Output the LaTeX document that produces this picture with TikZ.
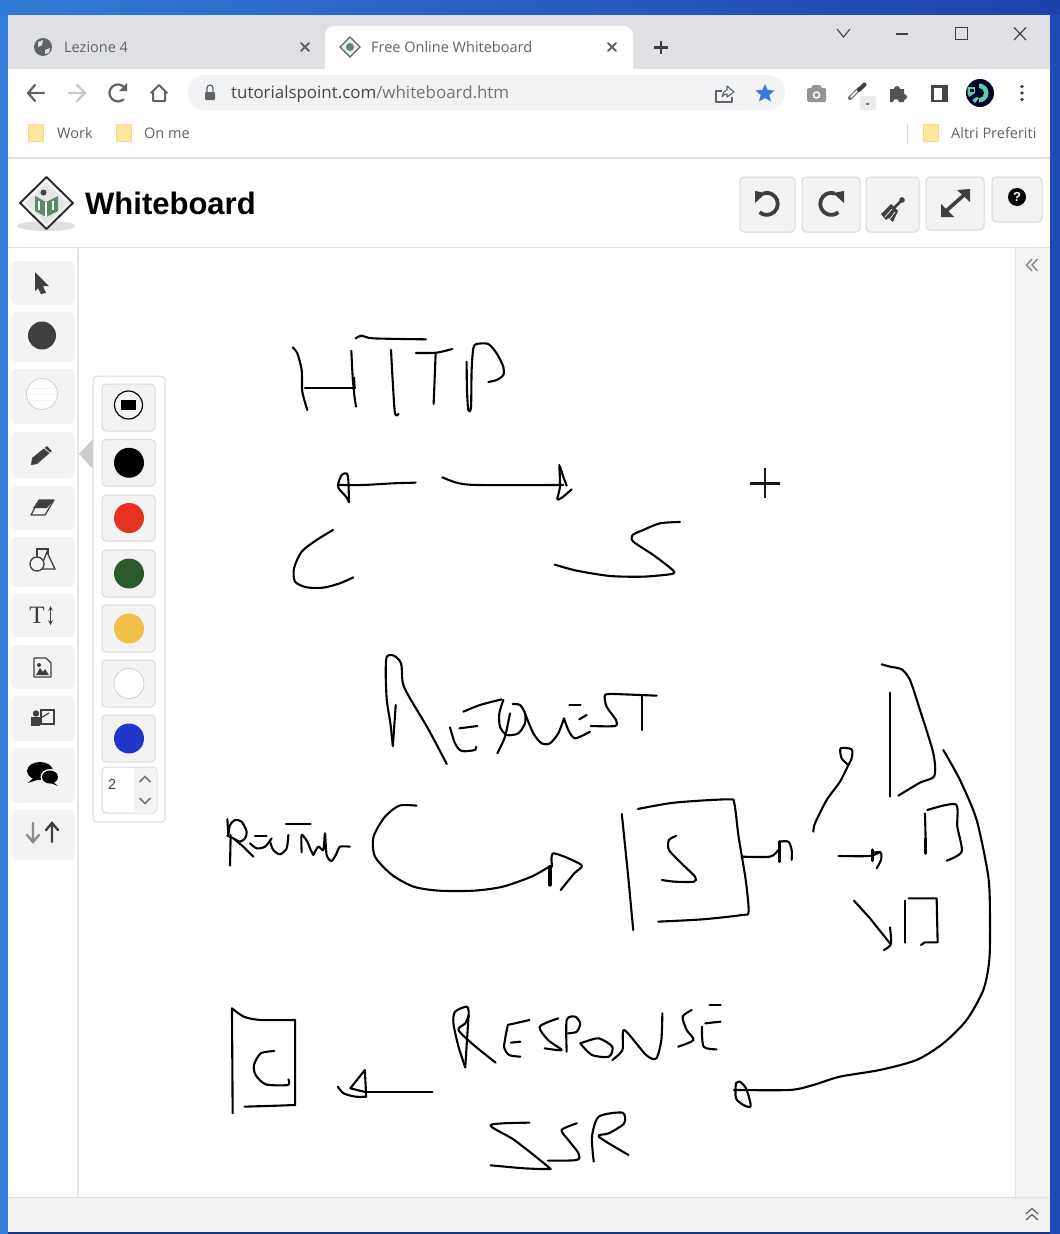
\documentclass[tikz,border=0pt]{standalone}
\usepackage{fontspec}
\setmainfont{Open Sans}
\newfontfamily\arialfont{Liberation Sans}
\newfontfamily\timesfont{Liberation Serif}
\definecolor{tabgrey}{HTML}{DFE0E4}
\definecolor{pillgrey}{HTML}{F1F3F4}
\definecolor{iconc}{HTML}{5F6368}
\definecolor{btnfill}{HTML}{F3F3F4}
\definecolor{btnline}{HTML}{D9D9DB}
\definecolor{dark}{HTML}{3F3F41}
\definecolor{folder}{HTML}{FBE79F}
\definecolor{deskA}{RGB}{50,122,215}
\definecolor{deskB}{RGB}{28,66,172}
\definecolor{deskL}{RGB}{50,128,220}
\definecolor{deskR}{RGB}{30,76,180}
\definecolor{starblue}{RGB}{60,120,225}
\definecolor{mint}{RGB}{90,205,175}
\definecolor{palred}{RGB}{230,50,35}
\definecolor{palgreen}{RGB}{43,90,46}
\definecolor{palyellow}{RGB}{240,192,74}
\definecolor{palblue}{RGB}{33,55,204}
\definecolor{logogreen}{RGB}{95,135,105}
\tikzset{
  x=1pt,y=-1pt,
  ink/.style={line width=2.1pt,line cap=round,line join=round,black},
  btn/.style={draw=btnline,fill=btnfill,line width=1pt,rounded corners=4pt},
  tool/.style={fill=btnfill,rounded corners=6pt},
  uitext/.style={inner sep=0pt,anchor=west,text=#1},
  uitext/.default={iconc},
  icon/.style={line width=2.2pt,draw=iconc,line cap=round,line join=round},
  hair/.style={line width=1pt,draw=#1},
  zoomA/.style={x=0.3333pt,y=-0.3333pt},
  zoomB/.style={x=0.35714pt,y=-0.3333pt},
  zoomC/.style={x=0.33807pt,y=-0.3333pt}
}
\newcommand{\sk}[1]{\draw[ink] plot[smooth,tension=0.45] coordinates {#1};}
\newcommand{\skl}[1]{\draw[ink] plot coordinates {#1};}
\newcommand{\fold}[1]{\begin{scope}[shift={(#1,124.5)}]
  \fill[folder,draw=folder!85!orange,line width=.6pt] (0,0) rectangle (15,17);
\end{scope}}
\begin{document}
\begin{tikzpicture}
\useasboundingbox (0,0) rectangle (1060,1234);
% desktop
\fill[left color=deskA,right color=deskB] (0,0) rectangle (1060,15);
\fill[deskL] (0,15) rectangle (8,1234);
\fill[deskR] (1050,15) rectangle (1060,1234);
\fill[deskB!80!black] (8,1232) rectangle (1050,1234);
% window
\fill[white] (8,15) rectangle (1050,1232);
\fill[tabgrey] (8,15) rectangle (1050,69);
\fill[white,rounded corners=9pt] (325,26) rectangle (633,80);
\fill[white] (325,60) rectangle (633,72);
\fill[pillgrey,rounded corners=17pt] (188,75) rectangle (785,110);
\draw[hair=black!12,line width=1.5pt] (8,158) -- (1050,158);
\draw[hair=black!12] (8,247) -- (1050,247);
% tabs
\fill[iconc] (43,47) circle (9);
\fill[tabgrey] (38,42) -- (43,40) -- (42,45) -- (38,47) -- cycle;
\fill[tabgrey] (45,50) -- (50,48) -- (49,53) -- (45,54) -- cycle;
\node[uitext] (tabone) at (64,47.5) {\fontsize{14.5}{16}\selectfont Lezione 4};
\draw[icon,line width=2pt] (301,43) -- (309,51) (309,43) -- (301,51);
\begin{scope}[shift={(350,47)}]
  \draw[iconc,line width=1.4pt,fill=black!8] (0,-10) -- (10,0) -- (0,10) -- (-10,0) -- cycle;
  \fill[logogreen] (0,0) circle (4);
\end{scope}
\node[uitext] (tabtwo) at (371,47.5) {\fontsize{14.5}{16}\selectfont Free Online Whiteboard};
\draw[icon,line width=2pt] (608,43) -- (616,51) (616,43) -- (608,51);
\draw[dark,line width=2.4pt] (654,47.5) -- (668,47.5) (661,41) -- (661,54);
% window controls
\draw[dark,line width=1.1pt] (837,29) -- (843.5,37) -- (850,29);
\draw[dark,line width=1.4pt] (896,34) -- (908,34);
\draw[dark,line width=1.5pt] (955.5,27.5) rectangle (967.5,39.5);
\draw[dark,line width=1.2pt] (1014,27.5) -- (1026,40) (1026,27.5) -- (1014,40);
% nav
\draw[icon] (44,93) -- (28,93) (35,85) -- (28,93) -- (35,101);
\draw[icon,draw=black!22] (69,93) -- (85,93) (77,85) -- (85,93) -- (77,101);
\draw[icon] (124.5,87.5) arc[start angle=-40,end angle=-310,radius=8.5];
\fill[iconc] (127,83) -- (127,91) -- (119,91) -- cycle;
\draw[icon,line width=2pt] (151,93) -- (159,85) -- (167,93) (153,92) -- (153,101) -- (165,101) -- (165,92);
\fill[iconc,rounded corners=1pt] (205,92) rectangle (215,100);
\draw[iconc,line width=1.3pt] (207,92) -- (207,88) arc[start angle=180,end angle=360,radius=3] -- (213,92);
\node[uitext={black!72}] (urltext) at (231,94.5) {\fontsize{16.9}{20}\selectfont tutorialspoint.com\textcolor{black!55}{/whiteboard.htm}};
% share
\draw[iconc,line width=1.1pt,line join=round] (722,91) -- (716,91) -- (716,102) -- (732,102) -- (732,97);
\draw[iconc,line width=1.1pt,line join=round] (722,97) .. controls (723,91) and (727,90) .. (727,90) -- (727,86) -- (734,92) -- (727,97) -- (727,94) .. controls (725,94) and (723,95) .. (722,97);
% star
\fill[starblue] (765,84) -- (767.7,90) -- (774.5,90.5) -- (769.3,95) -- (771,101.5) -- (765,98) -- (759,101.5) -- (760.7,95) -- (755.5,90.5) -- (762.3,90) -- cycle;
% camera
\fill[black!42,rounded corners=1.5pt] (807,88) rectangle (826,102);
\fill[black!42] (811,88) -- (813,85) -- (820,85) -- (822,88) -- cycle;
\fill[white] (816.5,95) circle (3.8);
\fill[black!42] (816.5,95) circle (2.2);
% dropper
\draw[black!55,line width=4.2pt,line cap=round] (850,98) -- (859,89);
\draw[white,line width=1.6pt,line cap=round] (851,97) -- (857.5,90.5);
\draw[black!75,line width=4pt,line cap=round] (859,90) -- (864.5,84.5);
\fill[black!8,rounded corners=1pt] (860,96) rectangle (876,110);
\fill[black!55] (866,103.3) rectangle (868.5,104.5);
% puzzle
\fill[dark!90] (890,89) -- (894,89) arc[start angle=180,end angle=360,radius=3] -- (904,89) -- (904,94) arc[start angle=-90,end angle=90,radius=3] -- (904,102) -- (899,102) arc[start angle=0,end angle=-180,radius=3] -- (890,102) -- cycle;
% panel
\fill[iconc!70!black] (931,85) rectangle (948,102);
\fill[white] (933.5,87.5) rectangle (942,99.5);
% avatar
\fill[black!85!blue] (980,93) circle (14);
\fill[mint] (969,86) arc[start angle=215,end angle=145,radius=-0] -- (969,86);
\fill[mint] (967.5,87) -- (975,87) -- (975,93) -- (969,97) -- (967.5,93) -- cycle;
\fill[black!85!blue] (970,89) rectangle (973.5,91.5);
\fill[mint] (976.5,97) -- (972,100) -- (975,103) -- (979,98) -- cycle;
\fill[mint] (979,83.5) arc[start angle=-90,end angle=90,radius=9.5] -- cycle;
\fill[black!85!blue] (979,88) arc[start angle=-90,end angle=90,radius=5] -- cycle;
% dots
\fill[dark] (1022,86.5) circle (1.8) (1022,93) circle (1.8) (1022,99.5) circle (1.8);
% bookmarks
\fold{28.5}\fold{116}\fold{923}
\node[uitext] (bmwork) at (57,133.5) {\fontsize{14.5}{16}\selectfont Work};
\node[uitext] (bmonme) at (144,133.5) {\fontsize{14.5}{16}\selectfont On me};
\node[uitext] (bmaltri) at (951,133.5) {\fontsize{14.5}{16}\selectfont Altri Preferiti};
\draw[hair=black!15] (907,124) -- (907,144);
% logo
\fill[black!12] (46,226) ellipse (29 and 5);
\draw[black!85,line width=1.8pt,fill=black!10,line join=round] (46.5,177) -- (73,203) -- (46.5,229) -- (20,203) -- cycle;
\draw[white,line width=1.2pt] (46.5,181) -- (69,203) -- (46.5,225) -- (24,203) -- cycle;
\fill[logogreen] (35,196) -- (46,202) -- (58,196) -- (58,211) -- (46,217) -- (35,211) -- cycle;
\draw[white,line width=1.2pt] (46,202) -- (46,217) (39,201) -- (39,210) (53,201) -- (53,210);
\fill[black!75] (43.5,192.5) circle (3);
\node[uitext=black,font=\arialfont\bfseries\fontsize{31}{34}\selectfont] (title) at (85,203) {Whiteboard};
% header buttons
\draw[btn] (740,177) rectangle (795,232);
\draw[btn] (802,177) rectangle (860,232);
\draw[btn] (866,177) rectangle (919,232);
\draw[btn] (926,177) rectangle (984,230);
\draw[btn] (992,177) rectangle (1042,222);
\draw[dark,line width=3.8pt] (763,193.5) arc[start angle=250,end angle=490,radius=11];
\fill[dark] (755,191) -- (766,193) -- (755,203) -- cycle;
\draw[dark,line width=3.8pt] (835,193.5) arc[start angle=290,end angle=50,radius=11];
\fill[dark] (844,191) -- (833,193) -- (844,203) -- cycle;
\fill[dark] (881,214) -- (891,204) -- (898,211) -- (893,222) -- (888,218) -- (886,220) -- cycle;
\draw[dark,line width=2.6pt] (893,209) -- (901,201);
\fill[dark] (902,200) circle (2.8);
\draw[white,line width=.7pt] (885,217) -- (892,209) (889,220) -- (895,212);
\draw[dark,line width=3.6pt] (946,211) -- (964,195);
\fill[dark] (970,189) -- (970,202) -- (957,190) -- cycle;
\fill[dark] (941,217) -- (941,204) -- (954,217) -- cycle;
\fill[black] (1017,197) circle (9);
\node[inner sep=0pt,text=white,font=\arialfont\bfseries\fontsize{13}{13}\selectfont] (helpq) at (1017,197) {?};
% sidebars
\draw[hair=black!10,line width=1.2pt] (78,247) -- (78,1197);
\fill[black!4] (1015,248) rectangle (1050,1197);
\draw[hair=black!10] (1015,247) -- (1015,1197);
\fill[black!5] (8,1197) rectangle (1050,1232);
\draw[hair=black!12] (8,1197) -- (1050,1197);
\draw[black!50,line width=1.3pt] (1032,259) -- (1026.5,265) -- (1032,271) (1037.5,259) -- (1032,265) -- (1037.5,271);
\draw[black!60,line width=1.3pt] (1026,1214) -- (1032,1208.5) -- (1038,1214) (1026,1220) -- (1032,1214.5) -- (1038,1220);
% tool buttons
\fill[tool] (11,261) rectangle (75,305);
\fill[tool] (11,312) rectangle (75,362);
\fill[tool] (11,369) rectangle (75,424);
\fill[tool] (11,432) rectangle (75,478);
\fill[tool] (11,486) rectangle (75,530);
\fill[tool] (11,537) rectangle (75,587);
\fill[tool] (11,594) rectangle (75,637);
\fill[tool] (11,645) rectangle (75,689);
\fill[tool] (11,696) rectangle (75,741);
\fill[tool] (11,748) rectangle (75,803);
\fill[tool] (11,810) rectangle (75,860);
\fill[dark] (35,272) -- (49,286) -- (43,286) -- (46,293) -- (41,294) -- (38,288) -- (35,291) -- cycle;
\fill[dark] (42,335.5) circle (14);
\fill[white,draw=black!18,line width=.8pt] (42,394) circle (15.5);
\draw[red!6,line width=.7pt] (28,388) -- (56,388) (27,394) -- (57,394) (28,400) -- (56,400);
\fill[dark] (32,458) -- (47,446) -- (52,451) -- (37,464) -- (31,465) -- cycle;
\draw[white,line width=.7pt] (44,448) -- (50,453);
\fill[dark] (39,500) -- (54,500) -- (47,508) -- (33,508) -- cycle;
\draw[dark,line width=1.2pt,line join=round] (39,500) -- (54,500) -- (45,515) -- (31,515) -- cycle;
\fill[btnfill,draw=dark,line width=1.3pt] (37,549) rectangle (48,563);
\fill[btnfill,draw=dark,line width=1.3pt] (47,552) -- (55,569) -- (40,569) -- cycle;
\fill[btnfill,draw=dark,line width=1.3pt] (37,564) circle (7);
\node[inner sep=0pt,text=dark,font=\timesfont\fontsize{25}{25}\selectfont] (toolt) at (37,615) {T};
\draw[dark,line width=1.1pt,<->,>=stealth] (50.5,606) -- (50.5,625);
\draw[dark,line width=1.3pt,line join=round] (34,658) -- (46,658) -- (51,663) -- (51,677) -- (34,677) -- cycle;
\fill[dark] (36,675) -- (40,668) -- (43,672) -- (45,669) -- (49,675) -- cycle;
\fill[dark] (39,665) circle (2);
\fill[dark] (36,713.5) circle (3.2);
\fill[dark] (31,717) rectangle (40,726);
\draw[dark,line width=1.2pt] (41,710) rectangle (54,724);
\draw[dark,line width=1.2pt] (38,720) -- (44,716) -- (49,713);
\fill[black] (40,771) ellipse (13 and 9);
\fill[black] (33,778) -- (28,783) -- (40,779) -- cycle;
\fill[btnfill] (50,777) ellipse (9.5 and 8);
\fill[black] (50,777) ellipse (8 and 6.5);
\fill[black] (52,781) -- (58,786) -- (48,782) -- cycle;
\draw[black!45,line width=2.4pt,line cap=round] (33,823) -- (33,842) (27,835) -- (33,842) -- (39,835);
\draw[dark,line width=2.4pt,line cap=round] (52,842) -- (52,823) (46,830) -- (52,823) -- (58,830);
% palette
\fill[black!20] (79,454) -- (93,439) -- (93,469) -- cycle;
\draw[btn,fill=white] (93,376) rectangle (165,822);
\foreach \ya/\yb/\col in {439.5/486/black,495/541/palred,550/597/palgreen,605/652/palyellow,660/707/white,715/762/palblue}{
  \draw[btn] (102,\ya) rectangle (155,\yb);
  \fill[\col] (129,{(\ya+\yb)/2}) circle (15);
}
\draw[black!20,line width=.7pt] (129,683.5) circle (15);
\draw[btn] (102,384) rectangle (155,431);
\draw[black,line width=1.2pt] (128.5,405) circle (14);
\fill[black] (121,400) rectangle (136,410);
\draw[btn,fill=white] (102,767) rectangle (157,813);
\fill[btnfill,rounded corners=3pt] (134,768) rectangle (156.5,812.5);
\node[uitext={black!75},font=\arialfont\fontsize{14.5}{16}\selectfont] (numval) at (108,784) {2};
\draw[black!55,line width=1.5pt] (139.5,782) -- (145,776.5) -- (150.5,782);
\draw[black!55,line width=1.5pt] (139.5,798) -- (145,803.5) -- (150.5,798);
% cursor
\draw[black!90,line width=2.2pt] (750,483.5) -- (780,483.5) (765,468) -- (765,498);
% ---- HTTP block
\begin{scope}[shift={(210,320)},zoomA]
\sk{(248,82)(262,100)(275,150)(277,215)(292,270)}
\sk{(424,92)(428,170)(433,225)(438,260)}
\skl{(285,203)(435,203)}
\skl{(432,172)(434,205)}
\sk{(437,55)(455,47)(490,55)(648,58)}
\sk{(543,90)(548,180)(555,280)(566,282)}
\sk{(618,99)(680,98)(727,87)}
\skl{(677,100)(671,252)}
\sk{(770,125)(771,210)(775,270)(783,262)(785,150)(790,85)(800,72)(835,72)(860,100)(880,140)(880,165)(860,180)(835,186)}
\sk{(617,488)(550,490)(460,495)(385,495)}
\sk{(417,547)(408,530)(386,505)(385,490)(395,465)(410,460)(415,480)(417,547)}
\sk{(697,472)(740,488)(800,495)(1060,495)}
\sk{(1048,435)(1050,500)(1042,538)(1060,530)(1085,508)}
\sk{(1050,440)(1060,470)(1070,497)}
\sk{(369,630)(320,660)(275,695)(252,745)(255,785)(290,802)(340,803)(390,790)(430,772)}
\sk{(1034,734)(1100,752)(1200,768)(1300,770)(1385,762)(1388,750)(1330,705)(1270,665)(1268,645)(1300,630)(1350,610)(1410,606)}
\end{scope}
% ---- Request: big R, arrow, server box
\begin{scope}[shift={(210,640)},zoomB]
\sk{(512,318)(505,250)(495,180)(492,100)(495,50)(515,47)(535,70)(540,130)(560,175)(610,265)(663,372)}
\skl{(520,195)(512,318)}
% curved arrow
\sk{(578,497)(530,497)(490,530)(458,590)(462,650)(510,705)(570,740)(640,752)(740,752)(820,740)(900,710)(950,680)}
\draw[ink,line width=3.4pt] (952,680) -- (952,735);
\sk{(958,680)(962,640)(1040,675)(1020,700)(982,750)}
% server box
\sk{(1153,522)(1170,700)(1185,870)}
\sk{(1198,507)(1300,488)(1450,478)(1468,490)(1480,590)(1500,720)(1508,815)(1490,825)(1380,838)(1255,845)}
\sk{(1305,588)(1285,600)(1285,630)(1320,670)(1358,710)(1355,725)(1300,725)(1265,720)}
\end{scope}
% ---- Request: remaining letters
\begin{scope}[shift={(440,690)},zoomA]
\sk{(70,65)(120,45)(185,28)}
\sk{(30,112)(45,160)(65,183)(105,180)(108,170)}
\skl{(58,115)(112,108)}
\sk{(190,30)(178,70)(180,110)(200,135)(235,130)(255,100)(255,70)(240,45)(218,42)}
\sk{(210,70)(195,140)(172,190)}
\sk{(255,70)(280,130)(305,160)(330,160)(355,130)(372,85)}
\skl{(388,44)(422,44)}
\skl{(418,88)(440,75)}
\sk{(372,85)(385,120)(405,145)(450,125)}
\sk{(525,12)(495,15)(500,50)(528,90)(525,108)(452,108)}
\skl{(525,12)(650,17)}
\skl{(605,18)(605,120)}
\end{scope}
% ---- Route label
\begin{scope}[shift={(220,805)},zoomA]
\skl{(30,182)(32,90)}
\skl{(22,42)(25,90)}
\sk{(25,90)(30,60)(45,45)(65,50)(80,80)(75,100)(60,110)(40,100)(22,92)}
\skl{(40,100)(70,125)(100,155)}
\skl{(105,92)(140,92)}
\sk{(90,115)(110,130)(135,125)(155,100)}
\sk{(150,110)(160,135)(180,148)(200,130)(205,90)}
\skl{(198,57)(272,57)}
\sk{(245,142)(245,90)(262,110)(270,130)(280,150)}
\sk{(280,150)(295,125)(310,135)(315,85)(320,150)(335,168)(350,145)(360,125)(390,125)}
\end{scope}
% ---- Services block
\begin{scope}[shift={(720,650)},zoomA]
\sk{(65,620)(150,620)(175,600)}
\draw[ink,line width=3pt] (178,635) -- (178,575);
\sk{(178,575)(205,575)(215,600)(215,630)}
\sk{(280,545)(285,520)(320,450)(360,395)(385,345)}
\sk{(385,345)(365,325)(362,295)(395,298)(395,325)(385,345)}
\sk{(355,618)(450,618)(480,605)}
\draw[ink,line width=3pt] (458,600) -- (458,632);
\sk{(455,608)(482,608)(483,630)(470,655)}
\skl{(402,752)(450,805)(510,880)}
\sk{(510,832)(513,882)(492,900)}
\skl{(509,128)(509,440)}
\sk{(485,43)(510,50)(545,58)(570,90)(600,180)(640,310)(643,378)(600,398)(535,437)}
\draw[ink] (615,490) -- (618,610);
\draw[ink,line width=3pt] (618,565) -- (618,610);
\sk{(622,480)(707,463)(712,530)(725,605)(680,632)}
\skl{(554,752)(554,878)}
\skl{(566,745)(650,745)(653,877)(615,877)(603,885)}
\sk{(670,300)(720,390)(770,510)(805,680)(810,800)(808,930)(790,1020)(740,1110)(670,1180)(590,1230)(480,1260)(360,1280)(280,1305)(210,1320)(42,1320)}
\sk{(60,1295)(48,1300)(48,1345)(70,1365)(92,1370)(85,1335)(75,1310)(60,1295)}
\end{scope}
% ---- Response block
\begin{scope}[shift={(210,990)},zoomC]
\skl{(65,55)(67,370)}
\sk{(65,55)(100,80)(150,90)(252,90)}
\skl{(252,90)(252,345)(200,347)(102,350)}
\sk{(190,183)(150,190)(130,225)(135,255)(165,283)(230,285)(232,268)}
\skl{(658,306)(460,306)}
\sk{(378,290)(395,310)(430,320)(462,320)}
\skl{(462,320)(458,240)(415,295)(460,306)}
\sk{(755,232)(735,170)(720,100)(725,65)(760,50)(765,75)(755,100)(735,120)(780,165)(845,218)}
\skl{(765,75)(755,232)}
\skl{(945,90)(880,105)}
\skl{(918,155)(890,158)}
\sk{(880,110)(870,170)(885,195)(918,200)}
\sk{(1030,85)(975,110)(1000,150)(1040,180)(990,175)}
\sk{(1055,185)(1055,90)(1080,80)(1095,100)(1085,125)(1060,130)}
\sk{(1095,160)(1130,195)(1180,200)(1190,170)(1150,145)(1110,155)(1095,160)}
\sk{(1190,210)(1220,180)(1225,120)(1290,195)(1320,205)(1335,150)(1338,70)}
\sk{(1425,60)(1398,80)(1410,120)(1430,150)(1385,170)}
\skl{(1478,45)(1510,45)}
\skl{(1465,100)(1510,95)}
\sk{(1455,110)(1460,170)(1498,178)}
\sk{(945,398)(830,405)(900,450)(1000,530)(1000,537)(930,535)(830,526)}
\sk{(1085,400)(1040,420)(1060,450)(1090,490)(1085,510)(1000,512)}
\sk{(1135,515)(1130,440)(1150,380)(1220,368)(1225,400)(1180,430)(1150,440)(1238,495)}
\end{scope}
\end{tikzpicture}
\end{document}
